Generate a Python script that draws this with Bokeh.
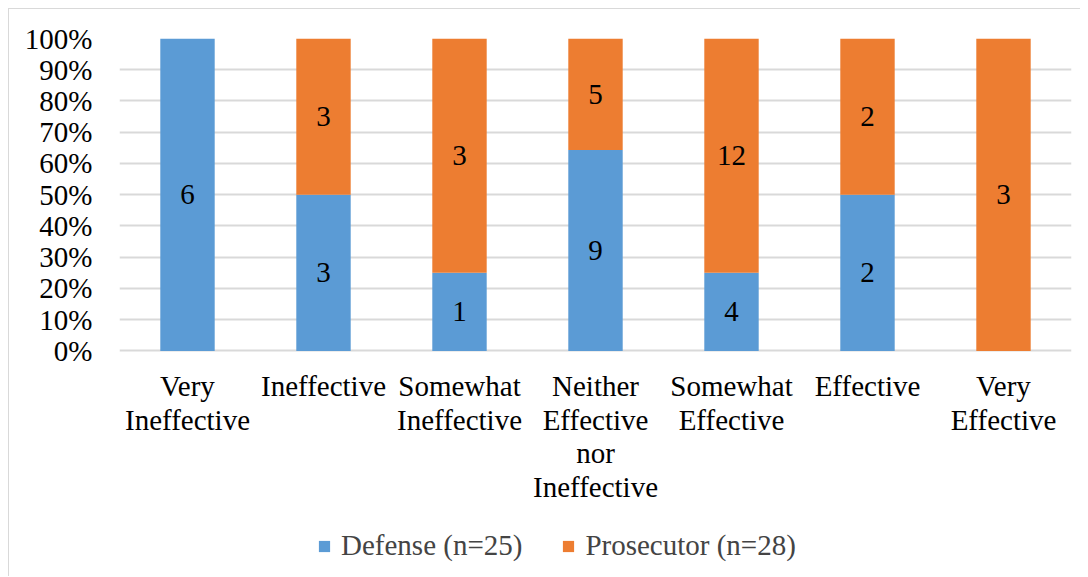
from bokeh.plotting import figure
from bokeh.models import ColumnDataSource, FixedTicker, NumeralTickFormatter, Legend, LegendItem, Range1d
from bokeh.core.properties import value
from bokeh.embed import file_html
from bokeh.resources import INLINE

categories = ["Very\nIneffective", "Ineffective", "Somewhat\nIneffective",
              "Neither\nEffective\nnor\nIneffective", "Somewhat\nEffective",
              "Effective", "Very\nEffective"]
defense = [6, 3, 1, 9, 4, 2, 0]
prosecutor = [0, 3, 3, 5, 12, 2, 3]
series_names = ["Defense (n=25)", "Prosecutor (n=28)"]
y_ticks = [0, 0.1, 0.2, 0.3, 0.4, 0.5, 0.6, 0.7, 0.8, 0.9, 1.0]

BLUE = "#5b9bd5"
ORANGE = "#ed7d31"
FONT = "'Liberation Serif', 'Times New Roman', serif"
FS = "29px"

xs = list(range(len(categories)))
tot = [d + p for d, p in zip(defense, prosecutor)]
d_frac = [d / t for d, t in zip(defense, tot)]
p_frac = [p / t for p, t in zip(prosecutor, tot)]

src = ColumnDataSource(dict(
    x=xs, cat=categories, d_top=d_frac, p_bottom=d_frac,
    p_top=[a + b for a, b in zip(d_frac, p_frac)],
))

# frame: 313 px per 100%, extra space below 0 holds category labels and legend
p = figure(x_range=Range1d(-0.5, len(categories) - 0.5), y_range=Range1d(-227 / 313, 1),
           width=1079, height=568, output_backend="svg", toolbar_location=None)
p.min_border_left = 110
p.min_border_right = 17
p.min_border_top = 29
p.min_border_bottom = 0
p.outline_line_color = None
p.styles = {"border-top": "1px solid #d9d9d9", "border-left": "1px solid #d9d9d9"}

rb = p.vbar(x="x", top="d_top", bottom=0, width=0.4, fill_color=BLUE, line_color=None, source=src)
ro = p.vbar(x="x", top="p_top", bottom="p_bottom", width=0.4, fill_color=ORANGE, line_color=None, source=src)

# data labels
lx, ly, lt = [], [], []
for i, d, pp, df in zip(xs, defense, prosecutor, d_frac):
    if d > 0:
        lx.append(i); ly.append(df / 2); lt.append(str(d))
    if pp > 0:
        lx.append(i); ly.append(df + (1 - df) / 2); lt.append(str(pp))
lsrc = ColumnDataSource(dict(x=lx, y=ly, t=lt))
p.text(x="x", y="y", text="t", source=lsrc, text_font=value(FONT), text_font_size=FS,
       text_align="center", text_baseline="middle", text_color="black")

# category labels under the bars
p.text(x="x", y=0, text="cat", source=src, text_font=value(FONT), text_font_size=FS,
       text_align="center", text_baseline="top", text_line_height=1.05, y_offset=19,
       text_color="black")

p.xaxis.visible = False
p.yaxis.ticker = FixedTicker(ticks=y_ticks)
p.yaxis.formatter = NumeralTickFormatter(format="0%")
p.yaxis.axis_line_color = None
p.yaxis.major_tick_line_color = None
p.yaxis.minor_tick_line_color = None
p.yaxis.major_tick_out = 0
p.yaxis.major_tick_in = 0
p.yaxis.major_label_standoff = 27
p.yaxis.major_label_text_font = FONT
p.yaxis.major_label_text_font_size = FS
p.yaxis.major_label_text_color = "black"
p.xgrid.grid_line_color = None
p.ygrid.ticker = FixedTicker(ticks=y_ticks)
p.ygrid.grid_line_color = "#d9d9d9"
p.ygrid.grid_line_width = 2

legend = Legend(items=[LegendItem(label=series_names[0], renderers=[rb]),
                       LegendItem(label=series_names[1], renderers=[ro])],
                orientation="horizontal", location=(198, 15),
                label_text_font=FONT, label_text_font_size=FS,
                glyph_width=14, glyph_height=14, spacing=39, label_standoff=10,
                border_line_color=None, background_fill_alpha=0,
                margin=0, padding=4)
p.add_layout(legend, "center")

html = file_html(p, INLINE)
i = html.rfind("<body>")
html = html[:i] + "<body style=\"margin:8px\">" + html[i + len("<body>"):]
open("out.html", "w").write(html)
